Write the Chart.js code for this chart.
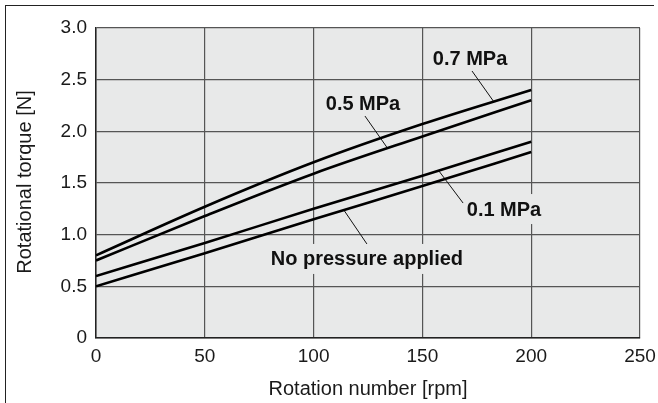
<!DOCTYPE html>
<html>
<head>
<meta charset="utf-8">
<script src="https://cdn.jsdelivr.net/npm/chart.js@4.4.1/dist/chart.umd.min.js"></script>
<style>
    html, body { margin: 0; padding: 0; background: #fff; }
    #wrap { position: relative; width: 658px; height: 403px; }
    #frame { position: absolute; left: 5px; top: 5px; width: 648px; height: 400px;
             border-left: 1.5px solid #222; border-top: 1.5px solid #222; pointer-events: none; }
</style>
</head>
<body>
<div id="wrap">
    <canvas id="torqueChart" width="658" height="403"></canvas>
    <div id="frame"></div>
</div>
<script>
// DATA
const rpm = [0, 50, 100, 150, 200];
const torque07 = [0.8, 1.27, 1.70, 2.07, 2.40];
const torque05 = [0.75, 1.18, 1.59, 1.95, 2.30];
const torque01 = [0.6, 0.92, 1.25, 1.57, 1.90];
const torque00 = [0.5, 0.82, 1.15, 1.47, 1.80];

const xTicks = [0, 50, 100, 150, 200, 250];
const yTicks = [0, 0.5, 1.0, 1.5, 2.0, 2.5, 3.0];

// label text, label centre, leader line (from curve, to label) in data units
const labelText = ["0.7 MPa", "0.5 MPa", "0.1 MPa", "No pressure applied"];
const labelPos = [[171.9, 2.705], [122.7, 2.274], [187.5, 1.248], [124.5, 0.765]];
const leaderFrom = [[182.9, 2.284], [133.7, 1.845], [157.6, 1.616], [114.0, 1.235]];
const leaderTo = [[172.8, 2.584], [123.6, 2.148], [168.7, 1.306], [124.5, 0.910]];

const FONT = '"Liberation Sans", Arial, Helvetica, sans-serif';
const PLOT_BG = "#e8e9e9";

function toPoints(ys) {
    return rpm.map((x, i) => ({ x, y: ys[i] }));
}

function lineSet(ys) {
    return {
        data: toPoints(ys),
        borderColor: "#000",
        borderWidth: 2.6,
        pointRadius: 0,
        fill: false,
        cubicInterpolationMode: "monotone"
    };
}

// grey plot background
const plotBackground = {
    id: "plotBackground",
    beforeDraw(chart) {
        const { ctx, chartArea: a } = chart;
        ctx.save();
        ctx.fillStyle = PLOT_BG;
        ctx.fillRect(a.left, a.top, a.right - a.left, a.bottom - a.top);
        ctx.restore();
    }
};

// curve labels with leader lines, and axis titles
const curveLabels = {
    id: "curveLabels",
    beforeDatasetsDraw(chart) {
        const { ctx, scales: { x, y } } = chart;
        ctx.save();
        ctx.font = "bold 20px " + FONT;
        ctx.textAlign = "center";
        ctx.textBaseline = "middle";
        labelText.forEach((txt, i) => {
            const cx = x.getPixelForValue(labelPos[i][0]);
            const cy = y.getPixelForValue(labelPos[i][1]);
            const w = ctx.measureText(txt).width + 8;
            ctx.fillStyle = PLOT_BG;
            ctx.fillRect(cx - w / 2, cy - 15, w, 30);
            ctx.fillStyle = "#111";
            ctx.fillText(txt, cx, cy + 1);

            ctx.beginPath();
            ctx.strokeStyle = "#111";
            ctx.lineWidth = 1;
            ctx.moveTo(x.getPixelForValue(leaderFrom[i][0]), y.getPixelForValue(leaderFrom[i][1]));
            ctx.lineTo(x.getPixelForValue(leaderTo[i][0]), y.getPixelForValue(leaderTo[i][1]));
            ctx.stroke();
        });
        ctx.restore();
    },
    afterDraw(chart) {
        const { ctx, chartArea: a } = chart;
        ctx.save();
        ctx.font = "20px " + FONT;
        ctx.fillStyle = "#1a1a1a";
        ctx.textAlign = "center";
        ctx.textBaseline = "middle";
        ctx.fillText("Rotation number [rpm]", (a.left + a.right) / 2, 389);
        ctx.translate(25, 182);
        ctx.rotate(-Math.PI / 2);
        ctx.fillText("Rotational torque [N]", 0, 0);
        ctx.restore();
    }
};

const chart = new Chart(document.getElementById("torqueChart"), {
    type: "line",
    data: {
        datasets: [lineSet(torque07), lineSet(torque05), lineSet(torque01), lineSet(torque00)]
    },
    options: {
        responsive: false,
        animation: false,
        layout: { padding: { left: 0, right: 18, top: 28, bottom: 0 } },
        plugins: { legend: { display: false }, tooltip: { enabled: false } },
        scales: {
            x: {
                type: "linear",
                min: 0,
                max: 250,
                afterFit: s => { s.height = 65; s.paddingLeft = 0; s.paddingRight = 0; },
                afterBuildTicks: s => { s.ticks = xTicks.map(v => ({ value: v })); },
                grid: { color: "#555", lineWidth: 1.2, drawTicks: false },
                border: { display: true, color: "#222", width: 1.5 },
                ticks: { padding: 7, color: "#1a1a1a", font: { family: FONT, size: 19 } }
            },
            y: {
                min: 0,
                max: 3,
                afterFit: s => { s.width = 96; s.paddingTop = 0; s.paddingBottom = 0; },
                afterBuildTicks: s => { s.ticks = yTicks.map(v => ({ value: v })); },
                grid: { color: "#555", lineWidth: 1.2, drawTicks: false },
                border: { display: true, color: "#222", width: 1.5 },
                ticks: {
                    padding: 9,
                    color: "#1a1a1a",
                    font: { family: FONT, size: 19 },
                    callback: v => (v === 0 ? "0" : v.toFixed(1))
                }
            }
        }
    },
    plugins: [plotBackground, curveLabels]
});
</script>
</body>
</html>
